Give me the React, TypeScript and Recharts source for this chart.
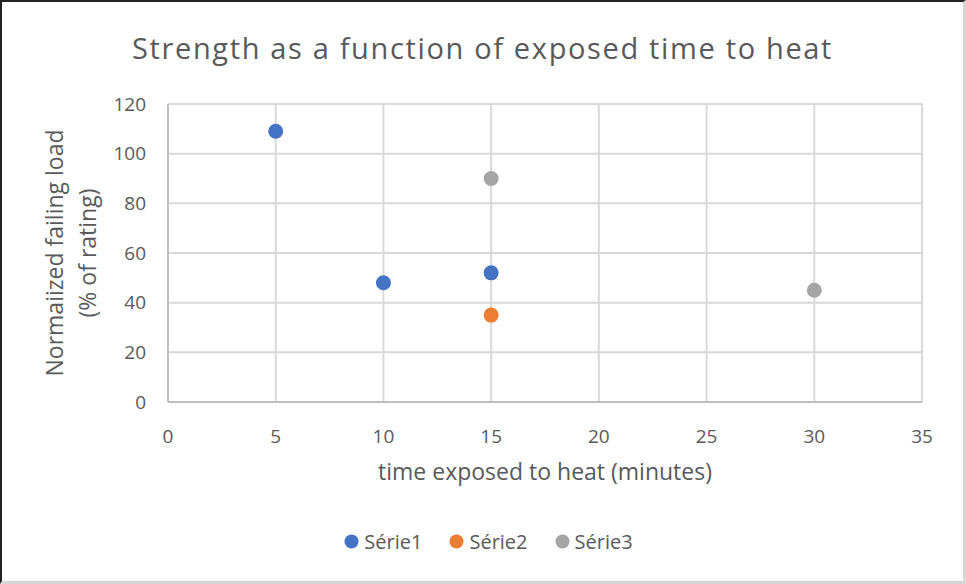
import {
  ScatterChart,
  Scatter,
  CartesianGrid,
  XAxis,
  YAxis,
  Label,
} from "recharts";

const serie1 = [
  { x: 5, y: 109 },
  { x: 10, y: 48 },
  { x: 15, y: 52 },
];
const serie2 = [{ x: 15, y: 35 }];
const serie3 = [
  { x: 15, y: 90 },
  { x: 30, y: 45 },
];
const xTicks = [0, 5, 10, 15, 20, 25, 30, 35];
const yTicks = [0, 20, 40, 60, 80, 100, 120];

const FONT = "'Open Sans', 'Noto Sans', sans-serif";
const TEXT = "#595959";

const seriesList = [
  { name: "Série1", color: "#4472C4", data: serie1 },
  { name: "Série2", color: "#ED7D31", data: serie2 },
  { name: "Série3", color: "#A5A5A5", data: serie3 },
];

const YTitle = (props: any) => {
  const cy = props.viewBox.y + props.viewBox.height / 2;
  return (
    <text
      transform={`translate(61, ${cy}) rotate(-90)`}
      textAnchor="middle"
      fill={TEXT}
      fontSize={23}
      fontFamily={FONT}
    >
      <tspan x={0} dy={0}>Normaiized failing load</tspan>
      <tspan x={0} dy={33}>(% of rating)</tspan>
    </text>
  );
};

export default function App() {
  return (
    <div
      style={{
        position: "absolute",
        left: 0,
        top: 0,
        width: 961,
        height: 579,
        background: "#fff",
        borderLeft: "2px solid #222",
        borderTop: "2px solid #222",
        borderRight: "3px solid #d6d6d6",
        borderBottom: "3px solid #d6d6d6",
      }}
    >
      <div
        style={{
          position: "absolute",
          left: 0,
          top: 26,
          width: "100%",
          textAlign: "center",
          fontFamily: FONT,
          fontSize: 29,
          letterSpacing: 1.65,
          color: TEXT,
        }}
      >
        Strength as a function of exposed time to heat
      </div>
      <ScatterChart
        width={961}
        height={579}
        margin={{ top: 102, right: 41, bottom: 89, left: 106 }}
      >
        <CartesianGrid stroke="#d9d9d9" strokeWidth={2} />
        <XAxis
          type="number"
          dataKey="x"
          domain={[0, 35]}
          ticks={xTicks}
          tickLine={false}
          tickSize={6}
          tickMargin={22}
          axisLine={{ stroke: "#bfbfbf", strokeWidth: 2 }}
          tick={{ fill: TEXT, fontSize: 19, fontFamily: FONT }}
          height={90}
        >
          <Label
            value="time exposed to heat (minutes)"
            position="insideTop"
            offset={62}
            fill={TEXT}
            fontSize={23}
            fontFamily={FONT}
          />
        </XAxis>
        <YAxis
          type="number"
          dataKey="y"
          domain={[0, 120]}
          ticks={yTicks}
          tickLine={false}
          tickSize={6}
          tickMargin={16}
          axisLine={{ stroke: "#bfbfbf", strokeWidth: 2 }}
          tick={{ fill: TEXT, fontSize: 19, fontFamily: FONT }}
          width={60}
        >
          <Label content={YTitle} />
        </YAxis>
        {seriesList.map((s) => (
          <Scatter
            key={s.name}
            name={s.name}
            data={s.data}
            fill={s.color}
            shape={(p: any) => <circle cx={p.cx} cy={p.cy} r={7.5} fill={s.color} />}
            isAnimationActive={false}
          />
        ))}
      </ScatterChart>
      <div
        style={{
          position: "absolute",
          left: 6,
          top: 526,
          width: "100%",
          display: "flex",
          justifyContent: "center",
          gap: 27,
          fontFamily: FONT,
          fontSize: 20,
          color: TEXT,
        }}
      >
        {seriesList.map((s) => (
          <span key={s.name} style={{ display: "flex", alignItems: "center", gap: 5 }}>
            <svg width={15} height={15}>
              <circle cx={7.5} cy={7.5} r={7} fill={s.color} />
            </svg>
            {s.name}
          </span>
        ))}
      </div>
    </div>
  );
}
